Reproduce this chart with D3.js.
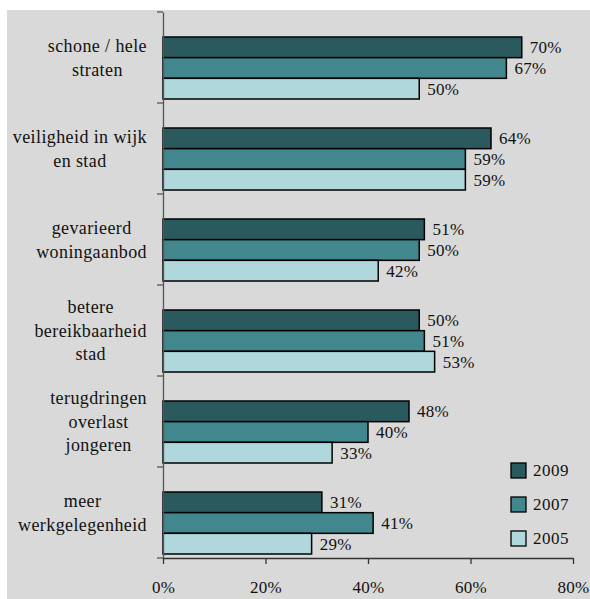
<!DOCTYPE html>
<html>
<head>
<meta charset="utf-8">
<script src="https://cdn.jsdelivr.net/npm/d3@7"></script>
<style>
  body { margin: 0; background: #fff; }
</style>
</head>
<body>
<div id="main"></div>
<script>
var categories = [
  ["schone / hele", "straten"],
  ["veiligheid in wijk", "en stad"],
  ["gevarieerd", "woningaanbod"],
  ["betere", "bereikbaarheid", "stad"],
  ["terugdringen", "overlast", "jongeren"],
  ["meer", "werkgelegenheid"]
];
var years = ["2009", "2007", "2005"];
var values2009 = [70, 64, 51, 50, 48, 31];
var values2007 = [67, 59, 50, 51, 40, 41];
var values2005 = [50, 59, 42, 53, 33, 29];
var xTicks = [0, 20, 40, 60, 80];
var colors = ["#2b5a5e", "#42878d", "#b0d7db"];

var width = 590, height = 599;
var series = [values2009, values2007, values2005];
var catKeys = categories.map(function(d, i) { return i; });
var serif = "Liberation Serif";

var svg = d3.select("#main").append("svg")
  .attr("width", width)
  .attr("height", height);

svg.append("rect")
  .attr("x", 7).attr("y", 10)
  .attr("width", width - 7).attr("height", height - 10)
  .attr("fill", "#d9d9d9");

var x = d3.scaleLinear().domain([0, 80]).range([163, 573]);
var y = d3.scaleBand().domain(catKeys).range([12, 558]).padding(0);
var sub = d3.scaleBand().domain(years).range([25, 87]).padding(0);

// bars
var group = svg.selectAll(".grp")
  .data(catKeys)
  .enter().append("g")
  .attr("class", "grp")
  .attr("transform", function(d) { return "translate(0," + y(d) + ")"; });

years.forEach(function(yr, si) {
  group.append("rect")
    .attr("x", x(0))
    .attr("y", sub(yr))
    .attr("width", function(d) { return x(series[si][d]) - x(0); })
    .attr("height", sub.bandwidth())
    .attr("fill", colors[si])
    .attr("stroke", "#000")
    .attr("stroke-width", 1.5);

  group.append("text")
    .attr("x", function(d) { return x(series[si][d]) + 8; })
    .attr("y", sub(yr) + sub.bandwidth() / 2)
    .attr("dy", "0.35em")
    .attr("font-family", serif)
    .attr("font-size", 17)
    .attr("letter-spacing", 0.3)
    .attr("fill", "#111")
    .text(function(d) { return series[si][d] + "%"; });
});

// category labels: centred lines, block right-aligned near the axis
group.each(function(d) {
  var lines = categories[d];
  var g = d3.select(this);
  var lh = 23.5;
  var mid = y.bandwidth() / 2;
  var texts = lines.map(function(line, li) {
    return g.append("text")
      .attr("y", mid + (li - (lines.length - 1) / 2) * lh)
      .attr("dy", "0.35em")
      .attr("text-anchor", "middle")
      .attr("font-family", serif)
      .attr("font-size", 18)
      .attr("letter-spacing", 0.4)
      .attr("fill", "#111")
      .text(line);
  });
  var maxW = d3.max(texts, function(t) { return t.node().getComputedTextLength(); });
  texts.forEach(function(t) { t.attr("x", 147 - maxW / 2); });
});

// y axis
var yAxis = svg.append("g")
  .attr("transform", "translate(" + x(0) + ",0)")
  .call(d3.axisLeft(y).tickValues([]).tickSizeOuter(0));
yAxis.select(".domain").attr("stroke", "#555").attr("stroke-width", 1.3);
var yTickPos = catKeys.map(function(d) { return y(d); }).concat([558]);
yAxis.selectAll(".ytk")
  .data(yTickPos)
  .enter().append("line")
  .attr("x1", -6).attr("x2", 0)
  .attr("y1", function(d) { return d; })
  .attr("y2", function(d) { return d; })
  .attr("stroke", "#555").attr("stroke-width", 1.3);

// x axis
var xAxis = svg.append("g")
  .attr("transform", "translate(0,558)")
  .call(d3.axisBottom(x).tickValues(xTicks).tickSize(6).tickSizeOuter(0)
    .tickFormat(function(d) { return d + "%"; }));
xAxis.attr("font-family", serif).attr("font-size", 17);
xAxis.select(".domain").attr("stroke", "#333").attr("stroke-width", 1.3);
xAxis.selectAll(".tick line").attr("stroke", "#333").attr("stroke-width", 1.3);
xAxis.selectAll(".tick text")
  .attr("y", 29)
  .attr("dy", "0.35em")
  .attr("letter-spacing", 0.3)
  .attr("fill", "#111");

// legend
var legend = svg.selectAll(".legend")
  .data(years)
  .enter().append("g")
  .attr("class", "legend")
  .attr("transform", function(d, i) { return "translate(511," + (463 + i * 34) + ")"; });

legend.append("rect")
  .attr("width", 15).attr("height", 15)
  .attr("fill", function(d, i) { return colors[i]; })
  .attr("stroke", "#000").attr("stroke-width", 1.3);

legend.append("text")
  .attr("x", 22).attr("y", 7.5)
  .attr("dy", "0.35em")
  .attr("font-family", serif)
  .attr("font-size", 17)
  .attr("letter-spacing", 0.5)
  .attr("fill", "#111")
  .text(function(d) { return d; });
</script>
</body>
</html>
